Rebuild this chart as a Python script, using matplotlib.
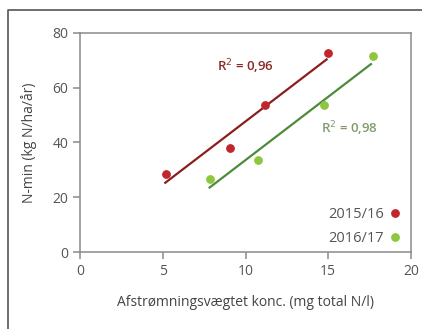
import matplotlib.pyplot as plt
import numpy as np
from matplotlib.lines import Line2D

plt.rcParams['font.family'] = ['Open Sans', 'DejaVu Sans']

# data
x_1516 = [5.2, 9.05, 11.2, 15.0]
y_1516 = [28.6, 37.9, 53.7, 72.6]
x_1617 = [7.88, 10.77, 14.75, 17.68]
y_1617 = [26.8, 33.6, 53.7, 71.4]
labels = ['2015/16', '2016/17']
r2_text = ['R$^2$ = 0,96', 'R$^2$ = 0,98']

red_pt = '#c0272d'
red_ln = '#8b1e1e'
grn_pt = '#8dc63f'
grn_ln = '#4f8a3c'

fig = plt.figure(figsize=(4.22, 3.29), dpi=100)
ax = fig.add_axes([0.1896, 0.234, 0.7844, 0.666])

# trend lines (least squares over each series)
for xs, ys, c in [(x_1516, y_1516, red_ln), (x_1617, y_1617, grn_ln)]:
    k, m = np.polyfit(xs, ys, 1)
    xl = np.array([min(xs) - 0.05, max(xs) - 0.1])
    ax.plot(xl, k * xl + m, color=c, lw=1.6, zorder=2)

ax.plot(x_1516, y_1516, 'o', color=red_pt, ms=5.3, label=labels[0], zorder=3)
ax.plot(x_1617, y_1617, 'o', color=grn_pt, ms=5.3, label=labels[1], zorder=3)

ax.text(10.0, 67.5, r2_text[0], color='#8b2a2a', fontsize=9.5, ha='center', va='center',
        fontweight='semibold')
ax.text(16.3, 45, r2_text[1], color='#7f9c6c', fontsize=9.5, ha='center', va='center',
        fontweight='semibold')

ax.set_xlim(0, 20)
ax.set_ylim(0, 80)
ax.set_xticks([0, 5, 10, 15, 20])
ax.set_yticks([0, 20, 40, 60, 80])
for s in ax.spines.values():
    s.set_color('#8a8a8a')
    s.set_linewidth(1.1)
ax.tick_params(colors='#8a8a8a', labelcolor='#555555', labelsize=10, length=5, width=1.1)
ax.set_xlabel('Afstrømningsvægtet konc. (mg total N/l)', fontsize=10, color='#444444', labelpad=12)
ax.set_ylabel('N-min (kg N/ha/år)', fontsize=10, color='#444444', labelpad=11)

ax.legend(loc='lower right', frameon=False, markerfirst=False, fontsize=10.5,
          handlelength=0.6, handletextpad=0.5, labelspacing=0.6,
          borderaxespad=0.3, labelcolor='#555555', bbox_to_anchor=(0.997, -0.02))

# outer frame of the figure (top and left edges only visible)
fig.add_artist(Line2D([0.019, 0.019, 1.0], [0.0, 0.97, 0.97], transform=fig.transFigure,
                      color='#555555', lw=1.2))

fig.savefig('out.png', dpi=100)
